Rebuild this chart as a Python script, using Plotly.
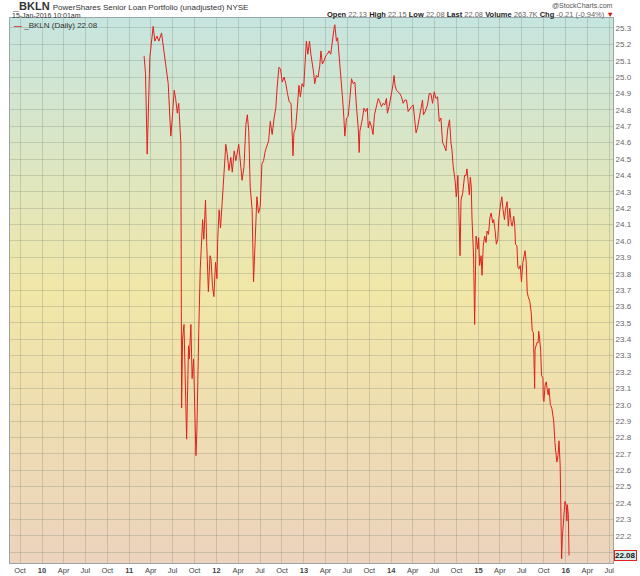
import base64
import plotly.graph_objects as go

# BKLN daily close (not every session)
dates = [
    "2011-03-04", "2011-03-10", "2011-03-17", "2011-03-28", "2011-04-11", "2011-04-18",
    "2011-04-27", "2011-05-05", "2011-05-16", "2011-05-23", "2011-06-02", "2011-06-13",
    "2011-06-20", "2011-06-24", "2011-07-01", "2011-07-08", "2011-07-14", "2011-07-21",
    "2011-07-27", "2011-08-01", "2011-08-05", "2011-08-08", "2011-08-12", "2011-08-18",
    "2011-08-23", "2011-08-29", "2011-09-06", "2011-09-09", "2011-09-16", "2011-09-21",
    "2011-09-27", "2011-10-03", "2011-10-07", "2011-10-11", "2011-10-14", "2011-10-19",
    "2011-10-25", "2011-10-31", "2011-11-04", "2011-11-09", "2011-11-16", "2011-11-21",
    "2011-11-28", "2011-12-05", "2011-12-09", "2011-12-15", "2011-12-21", "2011-12-28",
    "2012-01-03", "2012-01-06", "2012-01-12", "2012-01-18", "2012-01-24", "2012-01-30",
    "2012-02-09", "2012-02-15", "2012-02-22", "2012-03-01", "2012-03-07", "2012-03-15",
    "2012-03-22", "2012-04-03", "2012-04-09", "2012-04-17", "2012-04-25", "2012-05-03",
    "2012-05-09", "2012-05-15", "2012-05-21", "2012-05-29", "2012-06-04", "2012-06-11",
    "2012-06-18", "2012-06-25", "2012-07-02", "2012-07-09", "2012-07-16", "2012-07-23",
    "2012-08-06", "2012-08-13", "2012-08-21", "2012-08-29", "2012-09-05", "2012-09-11",
    "2012-09-18", "2012-09-25", "2012-10-02", "2012-10-10", "2012-10-17", "2012-10-24",
    "2012-10-31", "2012-11-08", "2012-11-14", "2012-11-16", "2012-11-20", "2012-11-27",
    "2012-12-05", "2012-12-11", "2012-12-17", "2012-12-24", "2012-12-31",
    "2013-01-04", "2013-01-11", "2013-01-17", "2013-01-24", "2013-01-30", "2013-02-06",
    "2013-02-11", "2013-02-15", "2013-02-22", "2013-03-01", "2013-03-08", "2013-03-13",
    "2013-03-19", "2013-03-26", "2013-04-02", "2013-04-09", "2013-04-16", "2013-04-23",
    "2013-04-30", "2013-05-07", "2013-05-10", "2013-05-17", "2013-05-22", "2013-05-28",
    "2013-06-03", "2013-06-07", "2013-06-12", "2013-06-17", "2013-06-21", "2013-06-28",
    "2013-07-05", "2013-07-12", "2013-07-19", "2013-07-26", "2013-08-02", "2013-08-09",
    "2013-08-16", "2013-08-20", "2013-08-23", "2013-09-03", "2013-09-09", "2013-09-16",
    "2013-09-23", "2013-09-27", "2013-10-03", "2013-10-10", "2013-10-17", "2013-10-23",
    "2013-10-31", "2013-11-08", "2013-11-14", "2013-11-21", "2013-11-29", "2013-12-05",
    "2013-12-12", "2013-12-16", "2013-12-23",
    "2014-01-02", "2014-01-07", "2014-01-13", "2014-01-17", "2014-01-23", "2014-01-30",
    "2014-02-06", "2014-02-13", "2014-02-20", "2014-02-27", "2014-03-06", "2014-03-13",
    "2014-03-20", "2014-03-27", "2014-04-03", "2014-04-10", "2014-04-15", "2014-04-21",
    "2014-04-28", "2014-05-05", "2014-05-12", "2014-05-16", "2014-05-23", "2014-06-02",
    "2014-06-09", "2014-06-16", "2014-06-23", "2014-06-30", "2014-07-07", "2014-07-14",
    "2014-07-21", "2014-07-28", "2014-08-04", "2014-08-11", "2014-08-18", "2014-08-25",
    "2014-09-02", "2014-09-08", "2014-09-12", "2014-09-17", "2014-09-26", "2014-09-30",
    "2014-10-03", "2014-10-07", "2014-10-10", "2014-10-16", "2014-10-20", "2014-10-27",
    "2014-11-04", "2014-11-10", "2014-11-14", "2014-11-20", "2014-11-24", "2014-11-28",
    "2014-12-02", "2014-12-05", "2014-12-12", "2014-12-16", "2014-12-22", "2014-12-29",
    "2015-01-02", "2015-01-06", "2015-01-12", "2015-01-16", "2015-01-21", "2015-01-27",
    "2015-02-02", "2015-02-06", "2015-02-12", "2015-02-18", "2015-02-23", "2015-03-02",
    "2015-03-06", "2015-03-12", "2015-03-17", "2015-03-23", "2015-03-27", "2015-04-02",
    "2015-04-09", "2015-04-14", "2015-04-20", "2015-04-24", "2015-05-01", "2015-05-06",
    "2015-05-12", "2015-05-18", "2015-05-22", "2015-05-29", "2015-06-02", "2015-06-05",
    "2015-06-11", "2015-06-15", "2015-06-19", "2015-06-25", "2015-06-30", "2015-07-06",
    "2015-07-10", "2015-07-15", "2015-07-20", "2015-07-24", "2015-07-28", "2015-08-04",
    "2015-08-10", "2015-08-14", "2015-08-19", "2015-08-24", "2015-08-26", "2015-09-03",
    "2015-09-08", "2015-09-10", "2015-09-14", "2015-09-18", "2015-09-22", "2015-09-28",
    "2015-09-29", "2015-10-02", "2015-10-07", "2015-10-12", "2015-10-15", "2015-10-20",
    "2015-10-23", "2015-10-29", "2015-11-04", "2015-11-09", "2015-11-12", "2015-11-17",
    "2015-11-20", "2015-11-25", "2015-11-30", "2015-12-04", "2015-12-09", "2015-12-10",
    "2015-12-14", "2015-12-15", "2015-12-18", "2015-12-23", "2015-12-29",
    "2016-01-04", "2016-01-06", "2016-01-08", "2016-01-12", "2016-01-15",
]
closes = [
    25.13, 25.02, 24.53, 25.12, 25.31, 25.22,
    25.25, 25.22, 25.27, 25.20, 25.08, 24.96,
    24.75, 24.64, 24.77, 24.92, 24.87, 24.78,
    24.84, 24.71, 24.59, 22.98, 23.40, 23.49,
    23.20, 22.79, 23.36, 23.28, 23.49, 23.16,
    23.28, 22.96, 22.69, 22.84, 23.16, 23.46,
    23.83, 23.99, 24.13, 24.01, 24.25, 23.99,
    23.69, 23.91, 23.89, 23.73, 23.66, 23.87,
    23.77, 24.01, 24.19, 24.08, 24.21, 24.38,
    24.59, 24.53, 24.43, 24.51, 24.42, 24.55,
    24.49, 24.59, 24.49, 24.37, 24.45, 24.71,
    24.77, 24.67, 24.33, 24.19, 23.75, 24.07,
    24.27, 24.17, 24.21, 24.47, 24.49, 24.55,
    24.61, 24.73, 24.65, 24.75, 24.81, 24.94,
    25.06, 25.05, 24.97, 25.00, 24.96, 24.90,
    24.85, 24.84, 24.65, 24.52, 24.66, 24.69,
    24.83, 24.95, 24.88, 24.96, 24.94,
    25.06, 25.22, 25.14, 25.22, 25.14, 25.08,
    25.02, 24.96, 25.01, 25.00, 25.07, 25.16,
    25.08, 25.10, 25.13, 25.14, 25.16, 25.14,
    25.24, 25.30, 25.32, 25.22, 25.24, 25.14,
    25.00, 24.95, 24.86, 24.75, 24.64, 24.75,
    24.76, 24.87, 24.99, 24.96, 24.97, 24.81,
    24.69, 24.54, 24.67, 24.75, 24.81, 24.79,
    24.81, 24.69, 24.73, 24.70, 24.65, 24.77,
    24.83, 24.87, 24.85, 24.82, 24.84, 24.83,
    24.87, 24.78, 24.82,
    24.89, 24.94, 25.01, 24.95, 24.92, 24.91,
    24.90, 24.88, 24.84, 24.86, 24.86, 24.79,
    24.81, 24.82, 24.83, 24.75, 24.66, 24.69,
    24.75, 24.82, 24.86, 24.77, 24.79, 24.83,
    24.90, 24.90, 24.84, 24.91, 24.87, 24.88,
    24.73, 24.75, 24.60, 24.58, 24.55, 24.68,
    24.74, 24.60, 24.56, 24.46, 24.36, 24.27,
    24.30, 24.40, 24.25, 23.91, 24.25, 24.29,
    24.40, 24.40, 24.44, 24.33, 24.28, 24.39,
    24.33, 24.14, 23.89, 23.49, 24.03, 23.95,
    24.02, 23.85, 23.91, 23.79, 23.97, 24.03,
    23.99, 24.06, 24.04, 24.14, 24.17, 24.11,
    24.13, 24.06, 23.98, 24.01, 24.13, 24.21,
    24.27, 24.19, 24.13, 24.19, 24.24, 24.09,
    24.20, 24.11, 24.09, 24.15, 24.09, 23.98,
    23.97, 23.84, 23.83, 23.85, 23.75, 23.87,
    23.91, 23.94, 23.87, 23.69, 23.66, 23.63,
    23.56, 23.45, 23.44, 23.10, 23.34, 23.38,
    23.38, 23.45, 23.40, 23.34, 23.18, 23.16,
    23.04, 23.02, 23.12, 23.14, 23.10, 23.06,
    23.10, 23.00, 22.98, 22.94, 22.90, 22.77,
    22.73, 22.65, 22.69, 22.78, 22.63, 22.49,
    22.27, 22.06, 22.19, 22.31, 22.41,
    22.38, 22.29, 22.39, 22.33, 22.08,
]

# quarterly x ticks
tick_dates = [
    "2009-10-01",
    "2010-01-01", "2010-04-01", "2010-07-01", "2010-10-01",
    "2011-01-01", "2011-04-01", "2011-07-01", "2011-10-01",
    "2012-01-01", "2012-04-01", "2012-07-01", "2012-10-01",
    "2013-01-01", "2013-04-01", "2013-07-01", "2013-10-01",
    "2014-01-01", "2014-04-01", "2014-07-01", "2014-10-01",
    "2015-01-01", "2015-04-01", "2015-07-01", "2015-10-01",
    "2016-01-01", "2016-04-01", "2016-07-01",
]
tick_labels = [
    "Oct",
    "<b>10</b>", "Apr", "Jul", "Oct",
    "<b>11</b>", "Apr", "Jul", "Oct",
    "<b>12</b>", "Apr", "Jul", "Oct",
    "<b>13</b>", "Apr", "Jul", "Oct",
    "<b>14</b>", "Apr", "Jul", "Oct",
    "<b>15</b>", "Apr", "Jul", "Oct",
    "<b>16</b>", "Apr", "Jul",
]

last_close = 22.08
FONT = "Liberation Sans, Arial, sans-serif"
RED = "#e3201c"

# vertical colour wash behind the plot
svg = (
    '<svg xmlns="http://www.w3.org/2000/svg" width="10" height="100" preserveAspectRatio="none">'
    '<defs><linearGradient id="g" x1="0" y1="0" x2="0" y2="1">'
    '<stop offset="0" stop-color="#c6e5e0"/>'
    '<stop offset="0.5" stop-color="#f1e7a7"/>'
    '<stop offset="1" stop-color="#ecd3bd"/>'
    '</linearGradient></defs>'
    '<rect width="10" height="100" fill="url(#g)"/></svg>'
)
bg_src = "data:image/svg+xml;base64," + base64.b64encode(svg.encode()).decode()

fig = go.Figure()
fig.add_trace(go.Scatter(
    x=dates, y=closes, mode="lines",
    line=dict(color=RED, width=1),
    hoverinfo="x+y", showlegend=False,
))

fig.add_layout_image(dict(
    source=bg_src, xref="paper", yref="paper", x=0, y=1,
    sizex=1, sizey=1, sizing="stretch", layer="below",
    xanchor="left", yanchor="top",
))

grid = "rgba(130,140,120,0.32)"
fig.update_xaxes(
    range=["2009-08-20", "2016-07-17"],
    tickvals=tick_dates, ticktext=tick_labels,
    showgrid=True, gridcolor=grid, gridwidth=1,
    ticks="", ticklabelstandoff=0,
    tickfont=dict(size=7.5, color="#444", family=FONT),
    showline=True, linecolor="#9aa6a6", linewidth=1, mirror=True,
    zeroline=False, automargin=False,
)
fig.update_yaxes(
    range=[22.034, 25.361], side="right",
    dtick=0.1, tick0=22.0, tickformat=".1f",
    showgrid=True, gridcolor=grid, gridwidth=1,
    ticks="", ticklabelstandoff=0,
    tickfont=dict(size=8, color="#666", family=FONT),
    showline=True, linecolor="#9aa6a6", linewidth=1, mirror=True,
    zeroline=False, automargin=False,
)

header = [
    dict(x=0, y=1, xshift=0, yshift=4,
         text="<b>_BKLN</b> <span style='font-size:8px'>PowerShares Senior Loan Portfolio (unadjusted) NYSE</span>",
         font=dict(size=11, color="#333", family=FONT), xanchor="left", yanchor="bottom"),
    dict(x=0, y=1, xshift=0, yshift=-3,
         text="15-Jan-2016 10:01am",
         font=dict(size=7, color="#333", family=FONT), xanchor="left", yanchor="bottom"),
    dict(x=1, y=1, xshift=2, yshift=7,
         text="@StockCharts.com",
         font=dict(size=7, color="#555", family=FONT), xanchor="right", yanchor="bottom"),
    dict(x=1, y=1, xshift=3, yshift=-3,
         text=("<b>Open</b> <span style='color:#666'>22.13</span> "
               "<b>High</b> <span style='color:#666'>22.15</span> "
               "<b>Low</b> <span style='color:#666'>22.08</span> "
               "<b>Last</b> <span style='color:#666'>22.08</span> "
               "<b>Volume</b> <span style='color:#666'>263.7K</span> "
               "<b>Chg</b> <span style='color:#666'>-0.21 (-0.94%)</span> "
               "<span style='color:#d01010'>▼</span>"),
         font=dict(size=7.5, color="#222", family=FONT), xanchor="right", yanchor="bottom"),
    dict(x=0, y=1, xshift=2, yshift=-1,
         text=f"<span style='color:{RED}'><b>—</b></span> _BKLN (Daily) {last_close:.2f}",
         font=dict(size=8, color="#333", family=FONT), xanchor="left", yanchor="top"),
    dict(xref="paper", yref="y", x=1, y=last_close, xshift=1,
         text=f"<b>{last_close:.2f}</b>",
         font=dict(size=8, color="#111", family=FONT), xanchor="left", yanchor="middle",
         bgcolor="#d8ece8", bordercolor=RED, borderwidth=1, borderpad=0),
]
for a in header:
    a.setdefault("xref", "paper")
    a.setdefault("yref", "paper")
    a["showarrow"] = False
    fig.add_annotation(**a)

fig.update_layout(
    width=640, height=576,
    margin=dict(l=10, r=27, t=18, b=13),
    paper_bgcolor="white", plot_bgcolor="rgba(0,0,0,0)",
    font=dict(family=FONT),
    hovermode="closest",
)

# drop the default page margin so the 640x576 figure fills the window
fig.write_html(
    "out.html",
    config={"displayModeBar": False},
    post_script="document.body.style.margin='0';",
)
